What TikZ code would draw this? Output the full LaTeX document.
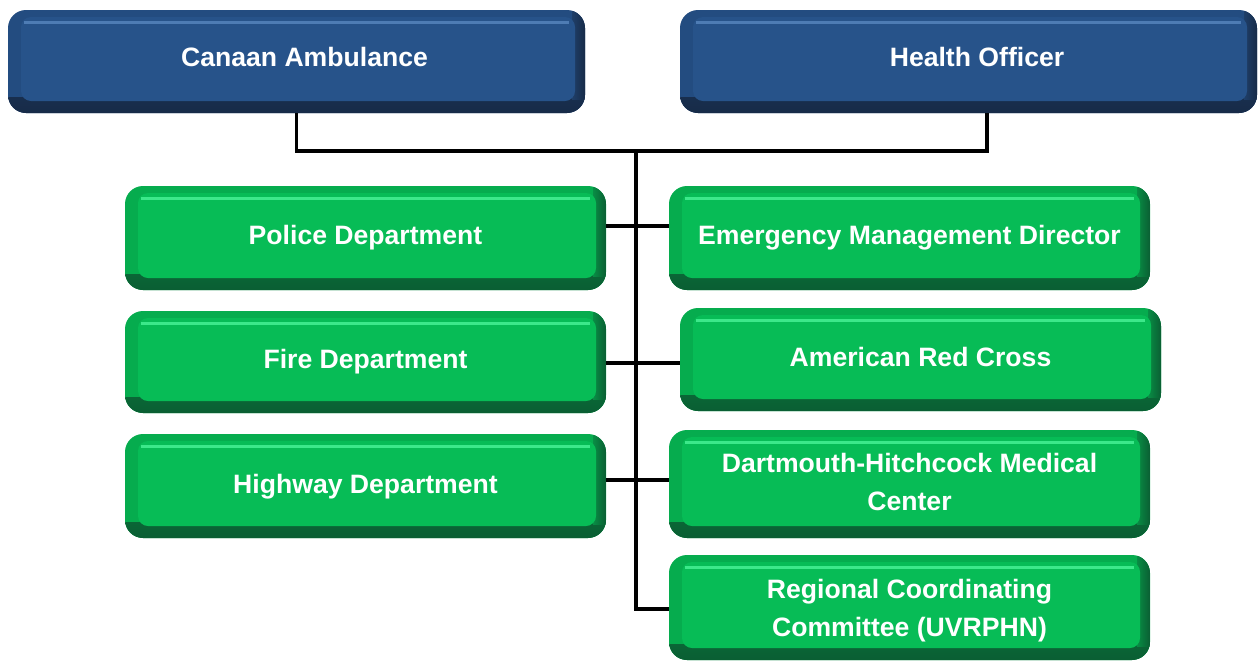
\documentclass[tikz,border=0pt]{standalone}
\usepackage{fontspec}
\setmainfont{Liberation Sans}
\definecolor{bmain}{HTML}{27538A}
\definecolor{bedge}{HTML}{234C80}
\definecolor{bdark}{HTML}{172B48}
\definecolor{blight}{HTML}{4E7CB4}
\definecolor{gmain}{HTML}{07BC56}
\definecolor{gedge}{HTML}{06AC4E}
\definecolor{gdark}{HTML}{0A5E33}
\definecolor{glight}{HTML}{3CE88A}
\tikzset{
  boxbase/.style n args={4}{draw=none, fill=#2, rounded corners=18pt, inner sep=0pt,
    path picture={
      \shade[top color=#1!55!#3, bottom color=#3, sharp corners] ([yshift=16pt]path picture bounding box.south west) rectangle (path picture bounding box.south east);
      \shade[left color=#1!50!#3, right color=#3, sharp corners] ([xshift=-13pt]path picture bounding box.north east) rectangle ([yshift=14pt]path picture bounding box.south east);
      \fill[#1, rounded corners=10pt] ([xshift=13pt,yshift=12pt]path picture bounding box.south west) rectangle ([xshift=-10pt,yshift=-7pt]path picture bounding box.north east);
      \draw[#4, line width=3pt, sharp corners] ([xshift=16pt,yshift=-12pt]path picture bounding box.north west) -- ([xshift=-16pt,yshift=-12pt]path picture bounding box.north east);
    }},
  bluebox/.style={boxbase={bmain}{bedge}{bdark}{blight}},
  greenbox/.style={boxbase={gmain}{gedge}{gdark}{glight}, minimum width=481pt},
  lbl/.style={text=white, font=\fontsize{26.6}{38.5}\selectfont\bfseries, align=center, inner sep=0pt},
  lbl1/.style={lbl, text depth=0pt},
  conn/.style={line width=3.8pt, draw=black, line join=miter},
}
\begin{document}
\begin{tikzpicture}[x=1pt, y=-1pt]
\useasboundingbox (0,0) rectangle (1258,662);
% boxes
\node[bluebox, minimum width=577pt, minimum height=103pt] (canaan) at (296.5,61.5) {};
\node[bluebox, minimum width=577pt, minimum height=103pt] (health) at (968.5,61.5) {};
\node[greenbox, minimum height=104pt] (police) at (365.5,238) {};
\node[greenbox, minimum height=102pt] (fire) at (365.5,362) {};
\node[greenbox, minimum height=104pt] (highway) at (365.5,486) {};
\node[greenbox, minimum height=104pt] (emd) at (909.5,238) {};
\node[greenbox, minimum height=103pt] (arc) at (920.5,359.5) {};
\node[greenbox, minimum height=108pt] (dhmc) at (909.5,484) {};
\node[greenbox, minimum height=105pt] (rcc) at (909.5,607.5) {};
% labels
\node[lbl1] (canaan-t) at ([xshift=8pt,yshift=4.5pt]canaan.center) {Canaan Ambulance};
\node[lbl1] (health-t) at ([xshift=8.5pt,yshift=4.5pt]health.center) {Health Officer};
\node[lbl1] (police-t) at ([yshift=3pt]police.center) {Police Department};
\node[lbl1] (fire-t) at ([yshift=3pt]fire.center) {Fire Department};
\node[lbl1] (highway-t) at ([yshift=2pt]highway.center) {Highway Department};
\node[lbl1] (emd-t) at ([yshift=3pt]emd.center) {Emergency Management Director};
\node[lbl1] (arc-t) at ([yshift=2.5pt]arc.center) {American Red Cross};
\node[lbl] (dhmc-t) at ([yshift=2pt]dhmc.center) {Dartmouth-Hitchcock Medical\\Center};
\node[lbl] (rcc-t) at ([yshift=-3pt]rcc.center) {Regional Coordinating\\Committee (UVRPHN)};
% connectors
\coordinate (j) at (636,151);
\coordinate (hb) at ([xshift=18.5pt]health.south);
\draw[conn] (canaan.south) |- (j) -| (hb);
\draw[conn] (j) |- ([yshift=-1.5pt]rcc.west);
\draw[conn] ([yshift=12pt]police.east) -- ([yshift=12pt]police.east -| emd.west);
\draw[conn] ([yshift=-1pt]fire.east) -- ([yshift=-1pt]fire.east -| arc.west);
\draw[conn] ([yshift=6pt]highway.east) -- ([yshift=6pt]highway.east -| dhmc.west);
\end{tikzpicture}
\end{document}
